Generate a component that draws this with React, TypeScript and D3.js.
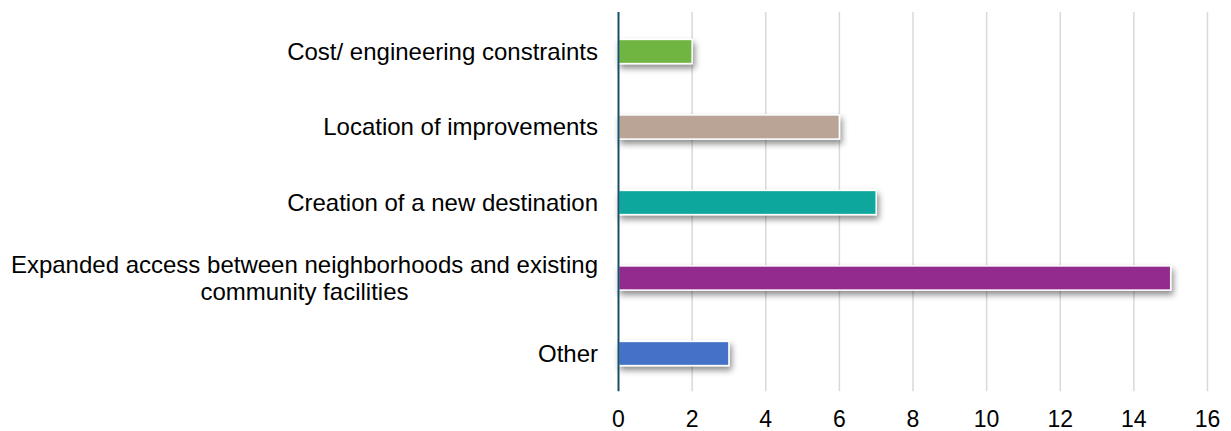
import React from "react";
import * as d3 from "d3";

const categories: string[][] = [
  ["Cost/ engineering constraints"],
  ["Location of improvements"],
  ["Creation of a new destination"],
  ["Expanded access between neighborhoods and existing", "community facilities"],
  ["Other"],
];
const values: number[] = [2, 6, 7, 15, 3];
const colors: string[] = ["#70B543", "#B9A496", "#0AA79D", "#932A8E", "#4472C8"];
const ticks: number[] = [0, 2, 4, 6, 8, 10, 12, 14, 16];

const W = 1231;
const H = 431;
const M = { left: 618.5, right: 23.5, top: 13.75, bottom: 39.75 };
const FONT = "Arial, 'Liberation Sans', sans-serif";
const CAT_SIZE = 24;

function measure(text: string, size: number): number {
  if (typeof document === "undefined") return text.length * size * 0.5;
  const c = document.createElement("canvas");
  const ctx = c.getContext("2d");
  if (!ctx) return text.length * size * 0.5;
  ctx.font = `${size}px ${FONT}`;
  return ctx.measureText(text).width;
}

export default function App() {
  const x = d3.scaleLinear().domain([0, 16]).range([M.left, W - M.right]);
  const y = d3
    .scaleBand<number>()
    .domain(values.map((_, i) => i))
    .range([M.top, H - M.bottom])
    .paddingInner(0.68)
    .paddingOuter(0.34);
  const labelRight = 598;
  return (
    <svg
      width={W}
      height={H}
      style={{ position: "absolute", left: 0, top: 0, background: "#fff" }}
    >
      <defs>
        <filter id="sh" x="-10%" y="-50%" width="130%" height="250%">
          <feDropShadow dx="2" dy="4" stdDeviation="3" floodColor="#000" floodOpacity="0.45" />
        </filter>
      </defs>
      {ticks.slice(1).map((t) => (
        <line
          key={t}
          x1={x(t)}
          x2={x(t)}
          y1={12}
          y2={H - M.bottom}
          stroke="#D9D9D9"
          strokeWidth={1.5}
        />
      ))}
      {values.map((v, i) => (
        <rect
          key={i}
          x={x(0)}
          y={y(i)!}
          width={x(v) - x(0)}
          height={y.bandwidth()}
          fill={colors[i]}
          stroke="#fff"
          strokeWidth={1.5}
          filter="url(#sh)"
        />
      ))}
      <line x1={x(0)} x2={x(0)} y1={12} y2={H - M.bottom} stroke="#17506B" strokeWidth={2} />
      {categories.map((lines, i) => {
        const cy = y(i)! + y.bandwidth() / 2;
        const lh = 27;
        const start = cy - ((lines.length - 1) * lh) / 2;
        const w0 = measure(lines[0], CAT_SIZE);
        const center = labelRight - w0 / 2;
        return (
          <g key={i} fontFamily={FONT} fontSize={CAT_SIZE} fill="#000">
            {lines.map((l, j) => (
              <text
                key={j}
                x={j === 0 ? labelRight : center}
                y={start + j * lh}
                dy="0.35em"
                textAnchor={j === 0 ? "end" : "middle"}
              >
                {l}
              </text>
            ))}
          </g>
        );
      })}
      {ticks.map((t) => (
        <text
          key={t}
          x={x(t)}
          y={419}
          dy="0.35em"
          textAnchor="middle"
          fontFamily={FONT}
          fontSize={23}
          fill="#000"
        >
          {t}
        </text>
      ))}
    </svg>
  );
}
